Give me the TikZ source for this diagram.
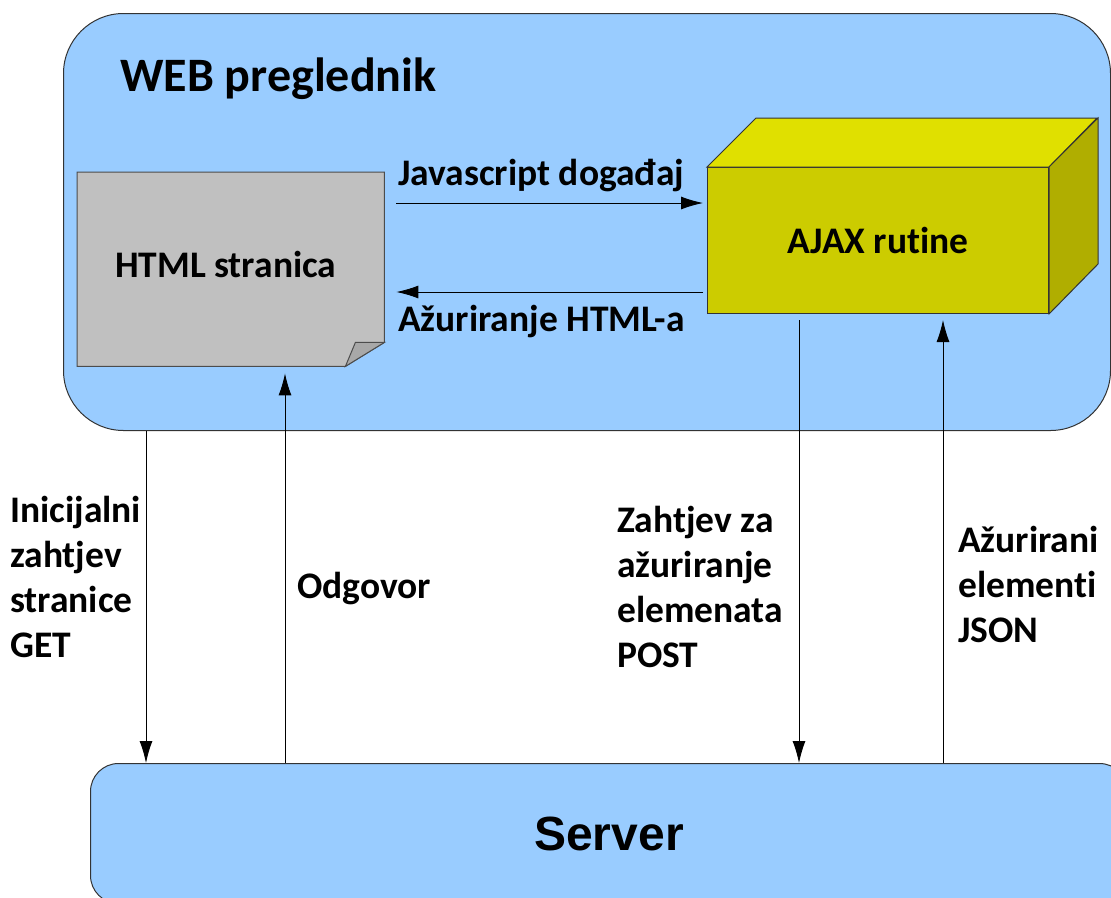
\documentclass[tikz,border=0pt]{standalone}
\usepackage{fontspec}
\setmainfont{Carlito}[RawFeature=-liga]
\newfontfamily\serverfont{Liberation Sans}
\usetikzlibrary{arrows.meta}
\definecolor{webblue}{HTML}{99CCFF}
\definecolor{pagegray}{HTML}{C0C0C0}
\definecolor{foldgray}{HTML}{A8A8A8}
\definecolor{ajaxfront}{HTML}{CCCC00}
\definecolor{ajaxtop}{HTML}{E0E000}
\definecolor{ajaxside}{HTML}{B0AE00}
\tikzset{
  lbl/.style={font=\bfseries\fontsize{37.5}{45}\selectfont,inner sep=0pt,align=left},
  flow/.style={-{Latex[length=22pt,width=13pt]},line width=0.9pt},
  box/.style={draw=black!80,line width=1pt},
}
\begin{document}
\begin{tikzpicture}[x=1pt,y=-1pt]
\useasboundingbox (0,0) rectangle (1111,897);
\node[box,fill=webblue,rounded corners=60pt,minimum width=1047pt,minimum height=417pt,anchor=north west,inner sep=0pt] (web) at (63,13) {};
\node[box,fill=webblue,rounded corners=28pt,minimum width=1037pt,minimum height=140pt,anchor=north west,inner sep=0pt,font=\serverfont\bfseries\fontsize{48}{58}\selectfont] (server) at (90,763) {Server};
\node[lbl,font=\bfseries\fontsize{48}{58}\selectfont,anchor=base west] (webtitle) at (120,91) {WEB preglednik};
\node[minimum width=307pt,minimum height=194pt,anchor=north west,inner sep=0pt] (html) at (77,172) {};
\draw[box,draw=black!70,fill=pagegray] (html.north west) -- (html.north east) -- ([yshift=24pt]html.south east) -- ([xshift=-39pt]html.south east) -- (html.south west) -- cycle;
\draw[box,draw=black!70,fill=foldgray] ([xshift=-39pt]html.south east) -- ([xshift=-29pt,yshift=24pt]html.south east) -- ([yshift=24pt]html.south east) -- cycle;
\node[lbl] (htmltext) at ([shift={(-5pt,5pt)}]html.center) {HTML stranica};
\node[lbl,box,fill=ajaxfront,minimum width=341pt,minimum height=146pt,anchor=north west] (ajax) at (707,167) {AJAX rutine};
\draw[box,fill=ajaxtop] (ajax.north west) -- ++(49,-49) -- ++(341,0) -- (ajax.north east) -- cycle;
\draw[box,fill=ajaxside] (ajax.north east) -- ++(49,-49) -- ++(0,146) -- (ajax.south east) -- cycle;
\draw[flow,shorten <=12pt,shorten >=4pt] (html.east |- 0,203) -- (ajax.west |- 0,203);
\draw[flow,shorten <=4pt,shorten >=12pt] (ajax.west |- 0,292) -- (html.east |- 0,292);
\node[lbl,anchor=north west] (jsevent) at (398,159) {Javascript događaj};
\node[lbl,anchor=north west] (htmlupd) at (398,305) {Ažuriranje HTML-a};
\coordinate (getx) at (146,0);
\coordinate (odgx) at (285,0);
\coordinate (postx) at (799,0);
\coordinate (jsonx) at (943,0);
\draw[flow] (getx |- web.south) -- (getx |- server.north);
\draw[flow,shorten >=7pt] (odgx |- server.north) -- (odgx |- html.south);
\draw[flow,shorten <=6pt] (postx |- ajax.south) -- (postx |- server.north);
\draw[flow,shorten >=6pt] (jsonx |- server.north) -- (jsonx |- ajax.south);
\node[lbl,anchor=north west] (getlbl) at (10,496) {Inicijalni\\zahtjev\\stranice\\GET};
\node[lbl,anchor=north west] (odglbl) at (297,572) {Odgovor};
\node[lbl,anchor=north west] (postlbl) at (617,506) {Zahtjev za\\ažuriranje\\elemenata\\POST};
\node[lbl,anchor=north west] (jsonlbl) at (958,526) {Ažurirani\\elementi\\JSON};
\end{tikzpicture}
\end{document}
